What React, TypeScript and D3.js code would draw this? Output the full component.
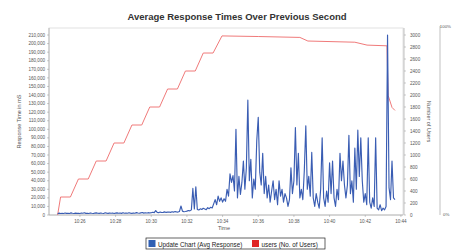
import * as d3 from "d3";
import React from "react";

// response times, one reading every 5 seconds starting at respStart (mS)
const respStart = "10:24:45";
const respStepSec = 5;
const respValues = [
  1500, 2200, 1800,
  2000, 1700, 2300, 1900, 2100, 1800, 2500, 2000, 1700, 2200, 1900, 2100,
  1800, 2300, 2000, 2600, 1900, 2100, 1700, 2400, 2000, 1800, 2200, 2500,
  2100, 1900, 2300, 2000, 1800, 2600, 2200, 1900, 2400, 2000, 2300, 1800,
  2200, 2500, 2000, 2300, 1900, 2700, 2100, 2400, 2000, 2600, 2200, 1900,
  2400, 2100, 2800, 2300, 2000, 2500, 2900, 2200, 2600, 2300, 2700, 2400,
  2600, 3200, 2800, 5200, 3000, 2700, 3400, 2900, 3100, 3600, 3000, 3300,
  3500, 3100, 3800, 3300, 4000, 3600, 3400, 4200, 10500, 4500, 3800, 4100,
  4500, 5200, 4800, 6000, 31000, 7000, 33000, 6500, 5800, 7200, 6400, 7800,
  7000, 6200, 8500, 7400, 9000, 8200, 13000, 18000, 12000, 22000, 16000, 20000,
  15000, 19000, 16000, 30000, 22000, 48000, 38000, 46000, 28000, 100000, 20000, 45000,
  24000, 38000, 63000, 30000, 55000, 134000, 40000, 65000, 20000, 42000, 30000, 87000,
  114000, 50000, 35000, 72000, 25000, 45000, 20000, 35000, 15000, 28000, 40000, 18000,
  30000, 12000, 40000, 22000, 30000, 15000, 25000, 20000, 10000, 18000, 55000, 25000,
  40000, 102000, 35000, 72000, 20000, 30000, 18000, 52000, 104000, 30000, 45000, 22000,
  73000, 20000, 10000, 25000, 15000, 8000, 30000, 90000, 20000, 10000, 28000, 15000,
  61000, 25000, 63000, 20000, 10000, 30000, 18000, 72000, 40000, 63000, 35000, 20000,
  35000, 93000, 25000, 40000, 15000, 78000, 30000, 99000, 45000, 90000, 40000, 15000,
  25000, 12000, 90000, 15000, 8000, 20000, 10000, 90000, 8000, 6000, 12000, 5000,
  8000, 6000, 10000, 210000, 32000, 18000, 63000, 20000, 18000,
];

// users ramp
const userTimes = [
  "10:24:45", "10:24:55", "10:25:28", "10:25:55", "10:26:28", "10:26:55",
  "10:27:28", "10:27:55", "10:28:28", "10:28:55", "10:29:28", "10:29:55",
  "10:30:28", "10:30:55", "10:31:28", "10:31:55", "10:32:28", "10:32:55",
  "10:33:28", "10:33:58", "10:36:00", "10:38:20", "10:38:47", "10:41:25",
  "10:42:06", "10:43:13", "10:43:17", "10:43:30", "10:43:40",
];
const userValues = [
  0, 300, 300, 600, 600, 900,
  900, 1200, 1200, 1500, 1500, 1800,
  1800, 2100, 2100, 2400, 2400, 2700,
  2700, 2985, 2975, 2960, 2900, 2880,
  2832, 2820, 1994, 1793, 1743,
];

const xTickLabels = [
  "10:26", "10:28", "10:30", "10:32", "10:34",
  "10:36", "10:38", "10:40", "10:42", "10:44",
];

const parseTime = d3.timeParse("%H:%M:%S");
const fmtComma = d3.format(",");

const W = 452, H = 250;
const plot = { left: 49, right: 403, top: 28, bottom: 215 };
const font = "Liberation Sans, Arial, sans-serif";

export default function App() {
  const t0 = parseTime(respStart)!;
  const respData = respValues.map((v, i) => ({
    date: d3.timeSecond.offset(t0, i * respStepSec),
    value: v,
  }));
  const userData = userTimes.map((t, i) => ({ date: parseTime(t)!, value: userValues[i] }));

  const x = d3
    .scaleTime()
    .domain([parseTime("10:24:16")!, parseTime("10:44:07")!])
    .range([plot.left, plot.right]);
  const yResp = d3.scaleLinear().domain([0, 218200]).range([plot.bottom, plot.top]);
  const yUsers = d3.scaleLinear().domain([0, 3117]).range([plot.bottom, plot.top]);

  const respLine = d3
    .line<{ date: Date; value: number }>()
    .x((d) => x(d.date))
    .y((d) => yResp(d.value));
  const userLine = d3
    .line<{ date: Date; value: number }>()
    .x((d) => x(d.date))
    .y((d) => yUsers(d.value));

  const leftTicks = d3.range(0, 210001, 10000);
  const rightTicks = d3.range(0, 3001, 200);
  const xTicks = xTickLabels.map((l) => parseTime(l + ":00")!);

  const axisColor = "#999";
  const textColor = "#555";

  return (
    <svg width={W} height={H} style={{ position: "absolute", left: 0, top: 0 }} fontFamily={font}>
      <rect width={W} height={H} fill="#fff" />
      <text x={237} y={20} textAnchor="middle" fontSize={9.5} fontWeight="bold" fill="#333">
        Average Response Times Over Previous Second
      </text>

      {/* plot frame */}
      <rect
        x={plot.left}
        y={plot.top}
        width={plot.right - plot.left}
        height={plot.bottom - plot.top}
        fill="#fff"
        stroke="#e2e2e2"
      />

      {/* left axis */}
      <line x1={plot.left} x2={plot.left} y1={plot.top} y2={plot.bottom} stroke={axisColor} strokeWidth={0.6} />
      {leftTicks.map((t) => (
        <g key={t} transform={`translate(0,${yResp(t)})`}>
          <line x1={plot.left - 2} x2={plot.left} stroke={axisColor} strokeWidth={0.5} />
          <text x={plot.left - 4} dy="0.35em" textAnchor="end" fontSize={4.6} fill={textColor}>
            {fmtComma(t)}
          </text>
        </g>
      ))}
      <text
        transform={`translate(21,${(plot.top + plot.bottom) / 2}) rotate(-90)`}
        textAnchor="middle"
        fontSize={5.5}
        fill={textColor}
      >
        Response Time in mS
      </text>

      {/* right axis */}
      <line x1={plot.right + 1} x2={plot.right + 1} y1={plot.top} y2={plot.bottom} stroke={axisColor} strokeWidth={0.6} />
      {rightTicks.map((t) => (
        <g key={t} transform={`translate(0,${yUsers(t)})`}>
          <line x1={plot.right + 1} x2={plot.right + 3} stroke={axisColor} strokeWidth={0.5} />
          <text x={plot.right + 7} dy="0.35em" fontSize={4.6} fill={textColor}>
            {t}
          </text>
        </g>
      ))}
      <text
        transform={`translate(427,${(plot.top + plot.bottom) / 2}) rotate(90)`}
        textAnchor="middle"
        fontSize={5.5}
        fill={textColor}
      >
        Number of Users
      </text>

      {/* percent axis */}
      <line x1={440} x2={440} y1={plot.top - 2} y2={plot.bottom} stroke={axisColor} strokeWidth={0.6} />
      <text x={451} y={plot.top} textAnchor="end" fontSize={4.4} fill={textColor}>100%</text>
      <text x={443} y={plot.bottom + 1} fontSize={4.4} fill={textColor}>0%</text>

      {/* x axis */}
      <line x1={plot.left} x2={plot.right} y1={plot.bottom} y2={plot.bottom} stroke={axisColor} strokeWidth={0.6} />
      {xTicks.map((d, i) => (
        <g key={i} transform={`translate(${x(d)},0)`}>
          <line y1={plot.bottom} y2={plot.bottom + 2} stroke={axisColor} strokeWidth={0.5} />
          <text y={plot.bottom + 7.5} textAnchor="middle" fontSize={4.6} fill={textColor}>
            {xTickLabels[i]}
          </text>
        </g>
      ))}
      <text x={224} y={230} textAnchor="middle" fontSize={5.5} fill={textColor}>
        Time
      </text>

      {/* series */}
      <path d={userLine(userData)!} fill="none" stroke="#f07a7a" strokeWidth={1} />
      <path d={respLine(respData)!} fill="none" stroke="#3a5db3" strokeWidth={1.15} strokeLinejoin="round" />

      {/* legend */}
      <rect x={146} y={238} width={179} height={11} fill="#fff" stroke="#222" strokeWidth={0.7} />
      <rect x={148.5} y={240} width={7} height={7} fill="#2f5fb3" />
      <text x={158} y={246.5} fontSize={6.3} fill="#222">Update Chart (Avg Response)</text>
      <rect x={252} y={240} width={7} height={7} fill="#e02424" />
      <text x={261.5} y={246.5} fontSize={6.3} fill="#222">users (No. of Users)</text>
    </svg>
  );
}
